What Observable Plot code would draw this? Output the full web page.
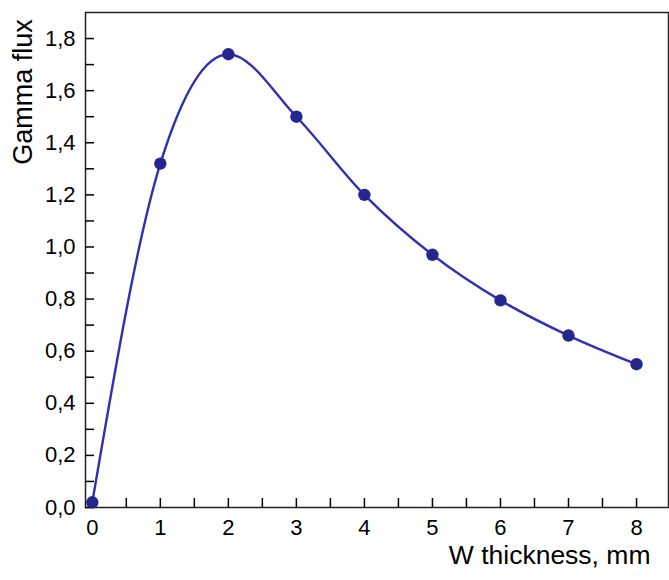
<!DOCTYPE html>
<html><head><meta charset="utf-8">
<script src="https://cdn.jsdelivr.net/npm/d3@7"></script>
<script src="https://cdn.jsdelivr.net/npm/@observablehq/plot@0.6"></script>
<style>body{margin:0;background:#fff;} svg{display:block;}</style>
</head><body><div id="chart"></div>
<script>
const thickness = [0, 1, 2, 3, 4, 5, 6, 7, 8];
const flux = [0.02, 1.32, 1.74, 1.50, 1.20, 0.97, 0.795, 0.66, 0.55];
const xMajor = [0, 1, 2, 3, 4, 5, 6, 7, 8];
const xMinor = d3.range(0, 8.01, 0.5);
const yMajor = [0, 0.2, 0.4, 0.6, 0.8, 1.0, 1.2, 1.4, 1.6, 1.8];
const yMinor = d3.range(0, 1.85, 0.1);
const xLabel = "W thickness, mm";
const yLabel = "Gamma flux";

const data = thickness.map((t, i) => ({t, f: flux[i]}));
const fmt = d => d3.format(".1f")(d).replace(".", ",");
const font = "'Liberation Sans', Arial, sans-serif";

const chart = Plot.plot({
  width: 669,
  height: 580,
  marginLeft: 85,
  marginTop: 12,
  marginRight: 1,
  marginBottom: 73,
  style: {fontFamily: font, background: "#fff", color: "#000"},
  x: {domain: [-0.1, 8.47]},
  y: {domain: [0, 1.9]},
  marks: [
    Plot.frame({stroke: "#222", strokeWidth: 1.5}),
    Plot.axisX({ticks: xMinor, tickSize: -9, tickFormat: () => "", strokeWidth: 1.5, label: null}),
    Plot.axisY({ticks: yMinor, tickSize: -9, tickFormat: () => "", strokeWidth: 1.5, label: null}),
    Plot.axisX({ticks: xMajor, tickSize: 0, tickPadding: 12, fontSize: 22, tickFormat: d => String(d), label: null}),
    Plot.axisY({ticks: yMajor, tickSize: 0, tickPadding: 10, fontSize: 22, tickFormat: fmt, label: null}),
    Plot.line(data, {x: "t", y: "f", curve: "monotone-x", stroke: "#3030b0", strokeWidth: 2.4}),
    Plot.dot(data, {x: "t", y: "f", r: 6.2, fill: "#26268f", stroke: "none"}),
    Plot.text([yLabel], {frameAnchor: "left", rotate: -90, dx: -62, dy: -168, fontSize: 27, textAnchor: "middle", fill: "#000"}),
    Plot.text([xLabel], {frameAnchor: "bottom-right", dx: -18, dy: 56, fontSize: 26.5, textAnchor: "end", fill: "#000"})
  ]
});
document.getElementById("chart").appendChild(chart);
</script>
</body></html>
